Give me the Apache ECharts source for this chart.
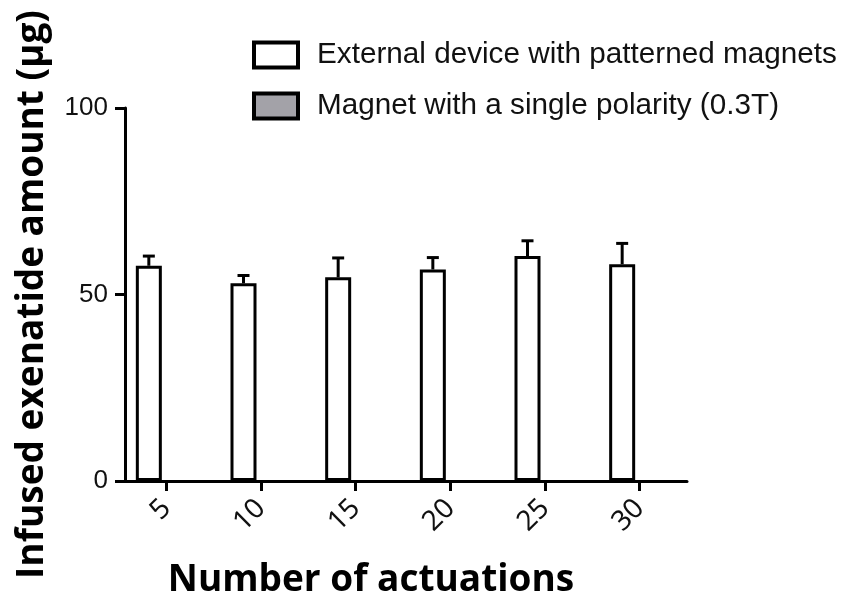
<!DOCTYPE html>
<html>
<head>
<meta charset="utf-8">
<script src="https://cdn.jsdelivr.net/npm/echarts@6/dist/echarts.min.js"></script>
<style>
html,body{margin:0;padding:0;background:#fff;}
#chart{width:849px;height:604px;}
</style>
</head>
<body>
<div id="chart"></div>
<script>
// Data
const categories = [5, 10, 15, 20, 25, 30];
const patternedMean = [57.7, 53.0, 54.6, 56.7, 60.3, 58.1];
const patternedErr = [2.6, 2.1, 5.2, 3.2, 4.1, 5.6];
const singlePolarityMean = ['-', '-', '-', '-', '-', '-'];
const seriesNames = ['External device with patterned magnets', 'Magnet with a single polarity (0.3T)'];

const barWidthPx = 26;
const barOffsetPx = -17.5;

const chart = echarts.init(document.getElementById('chart'), null, {renderer: 'canvas'});

const option = {
  backgroundColor: '#ffffff',
  animation: false,
  legend: {
    orient: 'vertical',
    left: 247,
    top: 35,
    itemWidth: 44,
    itemHeight: 25,
    itemGap: 21,
    selectedMode: false,
    textStyle: {
      fontFamily: 'Liberation Sans, Arial, sans-serif',
      fontSize: 29.7,
      color: '#111',
      lineHeight: 30,
      padding: [0, 0, 0, 14]
    },
    data: [
      {name: seriesNames[0], icon: 'rect', itemStyle: {color: '#ffffff', borderColor: '#000', borderWidth: 4}},
      {name: seriesNames[1], icon: 'rect', itemStyle: {color: '#a3a2a8', borderColor: '#000', borderWidth: 4}}
    ]
  },
  grid: {left: 119, right: 162, top: 108, bottom: 123, containLabel: false},
  xAxis: {
    type: 'value',
    min: 2.5,
    max: 32.5,
    name: 'Number of actuations',
    nameLocation: 'middle',
    nameGap: 81,
    nameTextStyle: {
      fontFamily: 'Open Sans, Noto Sans, sans-serif',
      fontWeight: 'bold',
      fontSize: 37,
      color: '#000',
      padding: [0, 64, 0, 0]
    },
    splitLine: {show: false},
    axisLine: {show: true, lineStyle: {color: '#000', width: 3}},
    axisTick: {show: true, customValues: categories, length: 10, lineStyle: {color: '#000', width: 3}},
    axisLabel: {
      customValues: categories,
      rotate: 45,
      margin: 23,
      fontFamily: 'Noto Sans, Open Sans, sans-serif',
      fontSize: 28,
      color: '#111'
    }
  },
  yAxis: {
    type: 'value',
    min: 0,
    max: 100,
    interval: 50,
    offset: -6,
    name: 'Infused exenatide amount (μg)',
    nameLocation: 'middle',
    nameGap: 74,
    nameTextStyle: {
      fontFamily: 'Open Sans, Noto Sans, sans-serif',
      fontWeight: 'bold',
      fontSize: 37,
      color: '#000'
    },
    splitLine: {show: false},
    axisLine: {show: true, lineStyle: {color: '#000', width: 3}},
    axisTick: {show: true, length: 10, lineStyle: {color: '#000', width: 3}},
    axisLabel: {
      margin: 17,
      fontFamily: 'Liberation Sans, Arial, sans-serif',
      fontSize: 26,
      color: '#111'
    }
  },
  series: [
    {
      name: seriesNames[0],
      type: 'bar',
      barWidth: barWidthPx,
      barGap: '34.6%',
      itemStyle: {color: '#ffffff', borderColor: '#000', borderWidth: 3},
      data: categories.map((c, i) => [c, patternedMean[i]]),
      z: 2
    },
    {
      name: seriesNames[1],
      type: 'bar',
      barWidth: barWidthPx,
      itemStyle: {color: '#a3a2a8', borderColor: '#000', borderWidth: 3},
      data: categories.map((c, i) => [c, singlePolarityMean[i]]),
      z: 2
    },
    {
      name: 'err',
      type: 'custom',
      z: 3,
      data: categories.map((c, i) => [c, patternedMean[i], patternedErr[i]]),
      encode: {x: 0, y: 1},
      renderItem: function (params, api) {
        const x = api.value(0);
        const v = api.value(1);
        const e = api.value(2);
        const p = api.coord([x, v]);
        const t = api.coord([x, v + e]);
        const cx = p[0] + barOffsetPx;
        const style = {stroke: '#000', lineWidth: 3};
        return {
          type: 'group',
          children: [
            {type: 'line', shape: {x1: cx, y1: p[1], x2: cx, y2: t[1]}, style: style},
            {type: 'line', shape: {x1: cx - 6, y1: t[1], x2: cx + 6, y2: t[1]}, style: style}
          ]
        };
      }
    }
  ]
};
chart.setOption(option);
</script>
</body>
</html>
